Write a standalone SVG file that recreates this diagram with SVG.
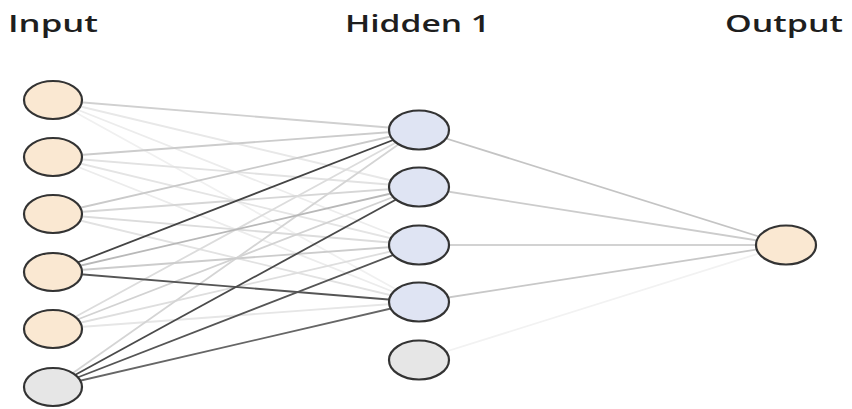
<svg xmlns="http://www.w3.org/2000/svg" width="852" height="409" viewBox="0 0 852 409">
<style>
.t{font-family:"Open Sans","Liberation Sans",sans-serif;font-weight:600;font-size:23px;fill:#1e1e1e}
.n{stroke:#333;stroke-width:2.2}
.in{fill:#fae8d2}
.hid{fill:#dfe4f3}
.bias{fill:#e6e6e6}
#edges line{stroke-width:1.8}
</style>
<rect width="852" height="409" fill="#fff"/>
<text class="t" x="8" y="32" textLength="90" lengthAdjust="spacingAndGlyphs">Input</text>
<text class="t" x="345" y="32" textLength="145" lengthAdjust="spacingAndGlyphs">Hidden 1</text>
<text class="t" x="725" y="32" textLength="118" lengthAdjust="spacingAndGlyphs">Output</text>
<g id="edges">
<line x1="53" y1="100" x2="419" y2="130" stroke="#d0d0d0"/>
<line x1="53" y1="100" x2="419" y2="187" stroke="#e8e8e8"/>
<line x1="53" y1="100" x2="419" y2="245" stroke="#ececec"/>
<line x1="53" y1="100" x2="419" y2="302" stroke="#f0f0f0"/>
<line x1="53" y1="157" x2="419" y2="130" stroke="#cccccc"/>
<line x1="53" y1="157" x2="419" y2="187" stroke="#e2e2e2"/>
<line x1="53" y1="157" x2="419" y2="245" stroke="#e4e4e4"/>
<line x1="53" y1="157" x2="419" y2="302" stroke="#ececec"/>
<line x1="53" y1="214" x2="419" y2="130" stroke="#cacaca"/>
<line x1="53" y1="214" x2="419" y2="187" stroke="#d6d6d6"/>
<line x1="53" y1="214" x2="419" y2="245" stroke="#dcdcdc"/>
<line x1="53" y1="214" x2="419" y2="302" stroke="#e2e2e2"/>
<line x1="53" y1="329" x2="419" y2="130" stroke="#dcdcdc"/>
<line x1="53" y1="329" x2="419" y2="187" stroke="#d2d2d2"/>
<line x1="53" y1="329" x2="419" y2="245" stroke="#dedede"/>
<line x1="53" y1="329" x2="419" y2="302" stroke="#e6e6e6"/>
<line x1="53" y1="387" x2="419" y2="130" stroke="#d4d4d4"/>
<line x1="53" y1="272" x2="419" y2="187" stroke="#b8b8b8"/>
<line x1="53" y1="272" x2="419" y2="245" stroke="#cccccc"/>
<line x1="53" y1="272" x2="419" y2="130" stroke="#444"/>
<line x1="53" y1="272" x2="419" y2="302" stroke="#555"/>
<line x1="53" y1="387" x2="419" y2="187" stroke="#4a4a4a"/>
<line x1="53" y1="387" x2="419" y2="245" stroke="#555"/>
<line x1="53" y1="387" x2="419" y2="302" stroke="#666"/>
<line x1="419" y1="130" x2="786" y2="245" stroke="#c4c4c4"/>
<line x1="419" y1="187" x2="786" y2="245" stroke="#cccccc"/>
<line x1="419" y1="245" x2="786" y2="245" stroke="#d2d2d2"/>
<line x1="419" y1="302" x2="786" y2="245" stroke="#c8c8c8"/>
<line x1="419" y1="360" x2="786" y2="245" stroke="#f2f2f2"/>
</g>
<g id="input1"><ellipse class="n in" cx="53" cy="100" rx="29" ry="19"/></g>
<g id="input2"><ellipse class="n in" cx="53" cy="157" rx="29" ry="19"/></g>
<g id="input3"><ellipse class="n in" cx="53" cy="214" rx="29" ry="19"/></g>
<g id="input4"><ellipse class="n in" cx="53" cy="272" rx="29" ry="19"/></g>
<g id="input5"><ellipse class="n in" cx="53" cy="329" rx="29" ry="19"/></g>
<g id="input_bias"><ellipse class="n bias" cx="53" cy="387" rx="29" ry="19"/></g>
<g id="hidden1"><ellipse class="n hid" cx="419" cy="130" rx="30" ry="19.5"/></g>
<g id="hidden2"><ellipse class="n hid" cx="419" cy="187" rx="30" ry="19.5"/></g>
<g id="hidden3"><ellipse class="n hid" cx="419" cy="245" rx="30" ry="19.5"/></g>
<g id="hidden4"><ellipse class="n hid" cx="419" cy="302" rx="30" ry="19.5"/></g>
<g id="hidden_bias"><ellipse class="n bias" cx="419" cy="360" rx="30" ry="19.5"/></g>
<g id="output"><ellipse class="n in" cx="786" cy="245" rx="30" ry="19.5"/></g>
</svg>
